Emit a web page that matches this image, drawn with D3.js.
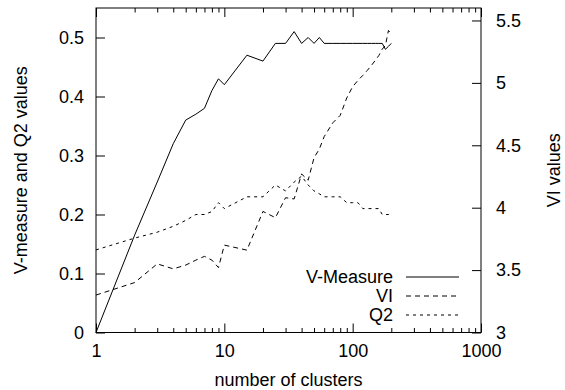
<!DOCTYPE html>
<html>
<head>
<meta charset="utf-8">
<script src="https://cdn.jsdelivr.net/npm/d3@7"></script>
<style>
  body { margin: 0; background: #fff; }
  text { font-family: "Liberation Sans", Arial, sans-serif; fill: #000; }
</style>
</head>
<body>
<svg id="chart" width="565" height="390"></svg>
<script>
// number of clusters (x values shared by all series)
const clusters = [1, 2, 3, 4, 5, 6, 7, 8, 9, 10, 15, 20, 25, 30, 35, 40, 45, 50, 55, 60,
    70, 80, 90, 100, 110, 120, 130, 140, 150, 160, 170, 180, 190, 200];

const vMeasure = [0, 0.165, 0.255, 0.32, 0.36, 0.37, 0.38, 0.41, 0.43, 0.42, 0.47, 0.46, 0.49, 0.49, 0.51, 0.49, 0.50, 0.49, 0.50, 0.49,
    0.49, 0.49, 0.49, 0.49, 0.49, 0.49, 0.49, 0.49, 0.49, 0.49, 0.49, 0.48, 0.485, 0.49];

const viValues = [3.30, 3.40, 3.55, 3.51, 3.54, 3.58, 3.61, 3.58, 3.52, 3.70, 3.66, 3.97, 3.92, 4.08, 4.07, 4.27, 4.22, 4.40, 4.47, 4.57,
    4.68, 4.74, 4.88, 4.97, 5.02, 5.06, 5.10, 5.14, 5.18, 5.22, 5.27, 5.30, 5.42, 5.39];

const q2Values = [0.14, 0.16, 0.17, 0.18, 0.19, 0.20, 0.20, 0.205, 0.22, 0.21, 0.23, 0.23, 0.25, 0.24, 0.255, 0.265, 0.25, 0.24, 0.235, 0.23,
    0.23, 0.23, 0.22, 0.22, 0.22, 0.21, 0.21, 0.21, 0.21, 0.21, 0.20, 0.20, 0.20, 0.20];

const leftTicks = [0, 0.1, 0.2, 0.3, 0.4, 0.5];
const rightTicks = [3, 3.5, 4, 4.5, 5, 5.5];
const xMajor = [1, 10, 100, 1000];
const xMinor = [2, 3, 4, 5, 6, 7, 8, 9, 20, 30, 40, 50, 60, 70, 80, 90, 200, 300, 400, 500, 600, 700, 800, 900];

const legendItems = [
    { label: "V-Measure", dash: null },
    { label: "VI", dash: "5,4" },
    { label: "Q2", dash: "3,4" }
];

const plot = { left: 96, right: 481, top: 8, bottom: 332.5 };
const fontSize = 18;

const svg = d3.select("#chart");

const x = d3.scaleLog().domain([1, 1000]).range([plot.left, plot.right]);
const yLeft = d3.scaleLinear().domain([0, 0.55]).range([plot.bottom, plot.top]);
const yRight = d3.scaleLinear().domain([3, 5.6]).range([plot.bottom, plot.top]);

// axes (gnuplot style: ticks point inward)
function styleAxis(g) {
    g.select(".domain").remove();
    g.selectAll("line").attr("stroke", "#000").attr("stroke-width", 1);
    g.selectAll("text").style("font-size", fontSize + "px").attr("fill", "#000");
}

svg.append("g")
    .attr("transform", `translate(0,${plot.bottom})`)
    .call(d3.axisBottom(x).tickValues(xMajor).tickFormat(d3.format("d")).tickSize(-9).tickPadding(12))
    .call(styleAxis);
svg.append("g")
    .attr("transform", `translate(0,${plot.bottom})`)
    .call(d3.axisBottom(x).tickValues(xMinor).tickFormat("").tickSize(-4.5))
    .call(styleAxis);
svg.append("g")
    .attr("transform", `translate(0,${plot.top})`)
    .call(d3.axisTop(x).tickValues(xMajor).tickFormat("").tickSize(-9))
    .call(styleAxis);
svg.append("g")
    .attr("transform", `translate(0,${plot.top})`)
    .call(d3.axisTop(x).tickValues(xMinor).tickFormat("").tickSize(-4.5))
    .call(styleAxis);

svg.append("g")
    .attr("transform", `translate(${plot.left},0)`)
    .call(d3.axisLeft(yLeft).tickValues(leftTicks).tickFormat(d => d === 0 ? "0" : d3.format(".1f")(d)).tickSize(-9).tickPadding(12))
    .call(styleAxis);

svg.append("g")
    .attr("transform", `translate(${plot.right},0)`)
    .call(d3.axisRight(yRight).tickValues(rightTicks).tickFormat(d => String(d)).tickSize(-9).tickPadding(15))
    .call(styleAxis);

// frame
svg.append("rect")
    .attr("x", plot.left).attr("y", plot.top)
    .attr("width", plot.right - plot.left).attr("height", plot.bottom - plot.top)
    .attr("fill", "none").attr("stroke", "#000").attr("stroke-width", 1);

// series
const idx = d3.range(clusters.length);
const vLine = d3.line().x(i => x(clusters[i])).y(i => yLeft(vMeasure[i]));
const viLine = d3.line().x(i => x(clusters[i])).y(i => yRight(viValues[i]));
const q2Line = d3.line().x(i => x(clusters[i])).y(i => yLeft(q2Values[i]));

svg.append("path").attr("d", vLine(idx))
    .attr("fill", "none").attr("stroke", "#000").attr("stroke-width", 1);
svg.append("path").attr("d", viLine(idx))
    .attr("fill", "none").attr("stroke", "#000").attr("stroke-width", 1)
    .attr("stroke-dasharray", legendItems[1].dash);
svg.append("path").attr("d", q2Line(idx))
    .attr("fill", "none").attr("stroke", "#000").attr("stroke-width", 1)
    .attr("stroke-dasharray", legendItems[2].dash);

// legend
const legend = svg.append("g").attr("transform", "translate(0,277)");
legendItems.forEach((d, i) => {
    legend.append("text")
        .attr("x", 393).attr("y", i * 19)
        .attr("dy", "0.35em")
        .attr("text-anchor", "end")
        .style("font-size", fontSize + "px")
        .text(d.label);
    legend.append("line")
        .attr("x1", 406).attr("x2", 459)
        .attr("y1", i * 19).attr("y2", i * 19)
        .attr("stroke", "#000").attr("stroke-width", 1)
        .attr("stroke-dasharray", d.dash);
});

// axis titles
svg.append("text")
    .attr("x", (plot.left + plot.right) / 2).attr("y", 386)
    .attr("text-anchor", "middle")
    .style("font-size", fontSize + "px")
    .text("number of clusters");

svg.append("text")
    .attr("transform", `translate(27,${(plot.top + plot.bottom) / 2}) rotate(-90)`)
    .attr("text-anchor", "middle")
    .style("font-size", fontSize + "px")
    .text("V-measure and Q2 values");

svg.append("text")
    .attr("transform", `translate(560,${(plot.top + plot.bottom) / 2}) rotate(-90)`)
    .attr("text-anchor", "middle")
    .style("font-size", fontSize + "px")
    .text("VI values");
</script>
</body>
</html>
